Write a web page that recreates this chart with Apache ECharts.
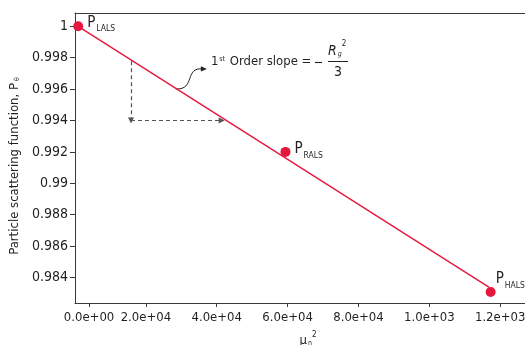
<!DOCTYPE html>
<html>
<head>
<meta charset="utf-8">
<script src="https://cdn.jsdelivr.net/npm/echarts@6/dist/echarts.min.js"></script>
<style>
  html, body { margin: 0; padding: 0; background: #fff; }
  #chart { width: 525px; height: 345px; }
</style>
</head>
<body>
<div id="chart"></div>
<script>
// Measured scattering function versus squared scattering vector
const pointNames = ['LALS', 'RALS', 'HALS'];
const muSquared = [900, 59400, 117300];
const scattering = [1.0, 0.992, 0.98307];

// First-order fit through the points
const fitMu = [900, 116800];
const fitP = [1.0, 0.98338];

// Slope guide (dashed right angle) and the callout anchor on the fit line
const guideMu = [15800, 15800, 41400];
const guideP = [0.99778, 0.994, 0.994];
const calloutMu = [28470];
const calloutP = [0.99601];

// Axis ticks and their printed labels
const xTickValues = [3960, 20000, 40000, 60000, 80000, 100000, 120000];
const xTickLabels = ['0.0e+00', '2.0e+04', '4.0e+04', '6.0e+04', '8.0e+04', '1.0e+03', '1.2e+03'];
const yTickValues = [0.984, 0.986, 0.988, 0.99, 0.992, 0.994, 0.996, 0.998, 1.0];
const yTickLabels = ['0.984', '0.986', '0.988', '0.99', '0.992', '0.994', '0.996', '0.998', '1'];

const FONT = "'Liberation Sans Narrow', 'DejaVu Sans Condensed', 'Liberation Sans', sans-serif";
const INK = '#231f20';
const RED = '#e5173f';
const AXIS = '#3a3a3a';

const chart = echarts.init(document.getElementById('chart'), null, { renderer: 'canvas' });

const X_MIN = 0, X_MAX = 127000, Y_MIN = 0.98237, Y_MAX = 1.00085;

const labelOffsets = { LALS: [0, -2], RALS: [0, -1], HALS: [-4, -11] };

const option = {
  animation: false,
  backgroundColor: '#fff',
  textStyle: { fontFamily: FONT, color: INK },
  grid: { left: 75, right: 0, top: 13, bottom: 42, containLabel: false, outerBoundsMode: 'none' },
  xAxis: [{
    type: 'value',
    min: X_MIN, max: X_MAX,
    name: '{m|μ}{sub|n}{sup|2}',
    nameLocation: 'middle',
    nameGap: 28,
    nameTextStyle: {
      padding: [0, 0, 0, 16],
      rich: {
        m: { fontFamily: FONT, fontSize: 13, color: INK, verticalAlign: 'bottom' },
        sub: { fontFamily: FONT, fontSize: 7, color: INK, verticalAlign: 'bottom', padding: [0, 0, 0, 1] },
        sup: { fontFamily: FONT, fontSize: 8, color: INK, verticalAlign: 'bottom', padding: [0, 0, 8, 0] }
      }
    },
    axisLine: { show: true, onZero: false, lineStyle: { color: AXIS, width: 1 } },
    axisTick: { show: true, length: 4, customValues: xTickValues, lineStyle: { color: AXIS } },
    axisLabel: {
      customValues: xTickValues,
      margin: 8,
      fontFamily: FONT, fontSize: 13, color: INK,
      formatter: v => {
        const i = xTickValues.findIndex(t => Math.abs(t - v) < 1);
        return i >= 0 ? xTickLabels[i] : '';
      }
    },
    splitLine: { show: false }
  }, {
    type: 'value',
    position: 'top',
    min: X_MIN, max: X_MAX,
    axisLine: { show: true, onZero: false, lineStyle: { color: AXIS, width: 1 } },
    axisTick: { show: false },
    axisLabel: { show: false },
    splitLine: { show: false }
  }],
  yAxis: {
    type: 'value',
    min: Y_MIN, max: Y_MAX,
    name: 'Particle scattering function, P{sub|θ}',
    nameLocation: 'middle',
    nameGap: 50,
    nameTextStyle: {
      fontFamily: FONT, fontSize: 13, color: INK,
      padding: [0, 16, 0, 0],
      rich: {
        sub: { fontFamily: FONT, fontSize: 7, color: INK, verticalAlign: 'bottom', padding: [0, 0, 0, 2] }
      }
    },
    axisLine: { show: true, onZero: false, lineStyle: { color: AXIS, width: 1 } },
    axisTick: { show: true, length: 5, customValues: yTickValues, lineStyle: { color: AXIS } },
    axisLabel: {
      customValues: yTickValues,
      margin: 7,
      fontFamily: FONT, fontSize: 14, color: INK,
      formatter: v => {
        const i = yTickValues.findIndex(t => Math.abs(t - v) < 1e-9);
        return i >= 0 ? yTickLabels[i] : '';
      }
    },
    splitLine: { show: false }
  },
  series: [{
    name: 'fit',
    type: 'line',
    data: fitMu.map((x, i) => [x, fitP[i]]),
    symbol: 'none',
    lineStyle: { color: RED, width: 1.4 },
    z: 2,
    markLine: {
      silent: true,
      symbol: ['none', 'triangle'],
      symbolSize: [6, 6],
      label: { show: false },
      lineStyle: { color: '#555', width: 1.2, type: [4, 3] },
      data: [
        [{ coord: [guideMu[0], guideP[0]] }, { coord: [guideMu[1], guideP[1]] }],
        [{ coord: [guideMu[1], guideP[1]] }, { coord: [guideMu[2], guideP[2]] }]
      ]
    }
  }, {
    name: 'points',
    type: 'scatter',
    data: muSquared.map((x, i) => ({ value: [x, scattering[i]], name: pointNames[i] })),
    symbol: 'circle',
    symbolSize: 10,
    itemStyle: { color: RED, opacity: 1 },
    z: 3,
    label: {
      show: true,
      position: 'right',
      distance: 4,
      formatter: p => '{p|P}{s|' + p.name + '}',
      rich: {
        p: { fontFamily: FONT, fontSize: 15, color: INK, verticalAlign: 'bottom', padding: [0, 1, 3, 0] },
        s: { fontFamily: FONT, fontSize: 8.5, color: INK, verticalAlign: 'bottom' }
      }
    },
    labelLayout: p => {
      const o = labelOffsets[pointNames[p.dataIndex]];
      return { dx: o[0], dy: o[1] };
    }
  }]
};

chart.setOption(option);

// Callout: curved arrow from the fit line to the slope expression
const start = chart.convertToPixel({ gridIndex: 0 }, [calloutMu[0], calloutP[0]]);
const tip = [start[0] + 31, start[1] - 20];

chart.setOption({
  graphic: [
    {
      type: 'bezierCurve',
      shape: {
        x1: start[0], y1: start[1],
        cpx1: start[0] + 20, cpy1: start[1] + 1,
        cpx2: start[0] + 8, cpy2: tip[1] - 2,
        x2: tip[0] - 4, y2: tip[1]
      },
      style: { stroke: INK, lineWidth: 1, fill: null }
    },
    {
      type: 'polygon',
      shape: { points: [[tip[0], tip[1]], [tip[0] - 6, tip[1] - 2.6], [tip[0] - 6, tip[1] + 2.6]] },
      style: { fill: INK }
    },
    {
      type: 'text',
      x: tip[0] + 4, y: 62,
      style: {
        text: '{a|1}{s|st}{a| Order slope =}',
        verticalAlign: 'middle',
        rich: {
          a: { fontFamily: FONT, fontSize: 13, fill: INK, verticalAlign: 'bottom' },
          s: { fontFamily: FONT, fontSize: 7, fill: INK, verticalAlign: 'bottom', padding: [0, 1, 6, 1] }
        }
      }
    },
    {
      // minus sign in front of the fraction
      type: 'line',
      shape: { x1: 315, y1: 62.5, x2: 322, y2: 62.5 },
      style: { stroke: INK, lineWidth: 1.1 }
    },
    {
      type: 'text',
      x: 328, y: 49,
      style: {
        text: '{r|R}{g|g}{t|2}',
        verticalAlign: 'middle',
        rich: {
          r: { fontFamily: FONT, fontSize: 14, fontStyle: 'italic', fill: INK, verticalAlign: 'bottom' },
          g: { fontFamily: FONT, fontSize: 7, fontStyle: 'italic', fill: INK, verticalAlign: 'bottom', padding: [0, 0, 0, 1] },
          t: { fontFamily: FONT, fontSize: 8, fill: INK, verticalAlign: 'bottom', padding: [0, 0, 10, 0] }
        }
      }
    },
    {
      type: 'line',
      shape: { x1: 328, y1: 61.5, x2: 348, y2: 61.5 },
      style: { stroke: INK, lineWidth: 1 }
    },
    {
      type: 'text',
      x: 338, y: 72,
      style: {
        text: '3',
        fontFamily: FONT, fontSize: 14, fill: INK,
        align: 'center', verticalAlign: 'middle'
      }
    }
  ]
});
</script>
</body>
</html>
